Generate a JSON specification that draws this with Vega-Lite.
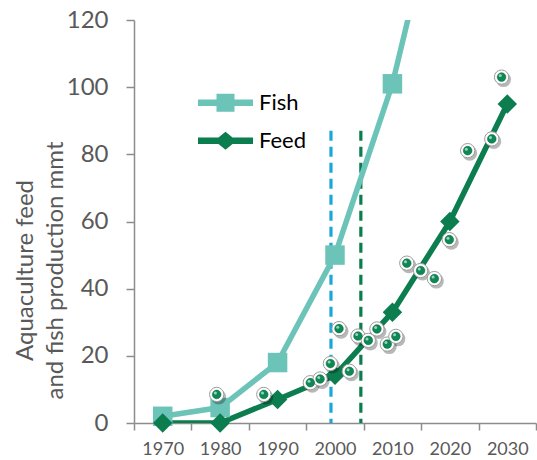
{
  "$schema": "https://vega.github.io/schema/vega-lite/v6.json",
  "width": 402,
  "height": 403,
  "autosize": {"type": "none"},
  "padding": {"left": 134, "top": 20, "right": 1, "bottom": 37},
  "background": "white",
  "config": {"view": {"stroke": null}, "font": "Lato", "axis": {"grid": false}},
  "datasets": {
    "series": [
      {"year": 1970, "value": 2, "series": "Fish"},
      {"year": 1980, "value": 4.6, "series": "Fish"},
      {"year": 1990, "value": 18, "series": "Fish"},
      {"year": 2000, "value": 50, "series": "Fish"},
      {"year": 2010, "value": 101, "series": "Fish"},
      {"year": 2020, "value": 172, "series": "Fish"},
      {"year": 1970, "value": 0, "series": "Feed"},
      {"year": 1980, "value": 0, "series": "Feed"},
      {"year": 1990, "value": 7, "series": "Feed"},
      {"year": 2000, "value": 14.2, "series": "Feed"},
      {"year": 2010, "value": 33, "series": "Feed"},
      {"year": 2020, "value": 60, "series": "Feed"},
      {"year": 2030, "value": 95, "series": "Feed"}
    ],
    "obs": [
      {"year": 1979.4, "value": 8.5},
      {"year": 1987.6, "value": 8.5},
      {"year": 1995.7, "value": 12.0},
      {"year": 1997.4, "value": 13.1},
      {"year": 1999.2, "value": 17.7},
      {"year": 2000.7, "value": 28.1},
      {"year": 2002.5, "value": 15.4},
      {"year": 2004.0, "value": 25.9},
      {"year": 2005.8, "value": 24.6},
      {"year": 2007.3, "value": 28.0},
      {"year": 2009.1, "value": 23.5},
      {"year": 2010.6, "value": 25.8},
      {"year": 2012.5, "value": 47.6},
      {"year": 2014.9, "value": 45.4},
      {"year": 2017.3, "value": 43.0},
      {"year": 2019.9, "value": 54.6},
      {"year": 2023.1, "value": 81.1},
      {"year": 2027.3, "value": 84.6},
      {"year": 2029.0, "value": 103.0}
    ],
    "refs": [
      {"year": 1999.3, "value": 87, "kind": "a"},
      {"year": 2004.5, "value": 87, "kind": "b"}
    ]
  },
  "encoding": {
    "x": {
      "field": "year", "type": "quantitative",
      "scale": {"domain": [1965, 2035], "nice": false, "zero": false},
      "axis": {
        "title": null,
        "values": [1965, 1975, 1985, 1995, 2005, 2015, 2025, 2035],
        "labelExpr": "datum.value + 5 <= 2030 ? '' + (datum.value + 5) : ''",
        "labelOffset": 28.7,
        "labelFlush": false,
        "labelOverlap": false,
        "tickSize": 7,
        "tickWidth": 1.5,
        "tickColor": "#8c8c8c",
        "domainColor": "#8c8c8c",
        "domainWidth": 1.5,
        "labelFontSize": 18,
        "labelColor": "#595959",
        "labelPadding": 10
      }
    },
    "y": {
      "field": "value", "type": "quantitative",
      "scale": {"domain": [0, 120], "nice": false},
      "axis": {
        "values": [0, 20, 40, 60, 80, 100, 120],
        "tickSize": 8,
        "tickWidth": 1.5,
        "tickColor": "#8c8c8c",
        "domainColor": "#8c8c8c",
        "domainWidth": 1.5,
        "labelFontSize": 24,
        "labelColor": "#595959",
        "labelPadding": 18,
        "title": ["Aquaculture feed", "and fish production mmt"],
        "titleFontSize": 24,
        "titleFontWeight": "normal",
        "titleColor": "#595959",
        "titleLineHeight": 30,
        "titleAngle": -90,
        "titleX": -97,
        "titleY": 250,
        "titleAlign": "center",
        "titleBaseline": "bottom"
      }
    }
  },
  "layer": [
    {
      "data": {"name": "refs"},
      "mark": {"type": "rule", "strokeDash": [10, 6], "strokeWidth": 3.2},
      "encoding": {
        "y2": {"datum": 0},
        "stroke": {"field": "kind", "type": "nominal", "scale": {"domain": ["a", "b"], "range": ["#1aa7d8", "#0b7d4e"]}, "legend": null}
      }
    },
    {
      "data": {"name": "series"},
      "mark": {"type": "line", "strokeWidth": 5.5, "clip": true, "strokeJoin": "round"},
      "encoding": {
        "color": {"field": "series", "type": "nominal", "scale": {"domain": ["Fish", "Feed"], "range": ["#6cc4b9", "#0b7d4e"]}}
      }
    },
    {
      "data": {"name": "series"},
      "transform": [{"filter": "datum.series === 'Fish' && datum.value <= 120"}],
      "mark": {"type": "point", "filled": true, "opacity": 1, "size": 380, "shape": "square"},
      "encoding": {
        "color": {
          "field": "series", "type": "nominal",
          "scale": {"domain": ["Fish", "Feed"], "range": ["#6cc4b9", "#0b7d4e"]},
          "legend": {
            "orient": "none",
            "legendX": 80.5,
            "legendY": 71.7,
            "title": null,
            "padding": 0,
            "labelFontSize": 22,
            "labelColor": "#000000",
            "labelOffset": 22.5,
            "rowPadding": 16,
            "symbolSize": 400,
            "symbolStrokeWidth": 0,
            "symbolOpacity": 1,
            "encode": {
              "symbols": {
                "update": {
                  "size": {"value": 400},
                  "strokeWidth": {"value": 0},
                  "shape": {"signal": "datum.value === 'Fish' ? 'M-2.75,-0.33L2.75,-0.33L2.75,0.33L-2.75,0.33Z M-0.9,-0.9L0.9,-0.9L0.9,0.9L-0.9,0.9Z' : 'M-2.75,-0.33L2.75,-0.33L2.75,0.33L-2.75,0.33Z M0,-0.9L1.1,0L0,0.9L-1.1,0Z'"}
                }
              }
            }
          }
        }
      }
    },
    {
      "data": {"name": "series"},
      "transform": [{"filter": "datum.series === 'Feed'"}],
      "mark": {"type": "point", "filled": true, "opacity": 1, "size": 380, "shape": "diamond"},
      "encoding": {
        "color": {"field": "series", "type": "nominal", "scale": {"domain": ["Fish", "Feed"], "range": ["#6cc4b9", "#0b7d4e"]}}
      }
    },
    {
      "data": {"name": "obs"},
      "mark": {"type": "circle", "size": 225, "color": "#000000", "opacity": 0.28, "xOffset": 2, "yOffset": 2.5}
    },
    {
      "data": {"name": "obs"},
      "mark": {"type": "circle", "size": 205, "color": "#ffffff", "opacity": 1, "stroke": "#9c9c9c", "strokeWidth": 1}
    },
    {
      "data": {"name": "obs"},
      "mark": {"type": "circle", "size": 75, "color": "#0c8a55", "opacity": 1, "stroke": "#06603a", "strokeWidth": 0.5}
    },
    {
      "data": {"name": "obs"},
      "mark": {"type": "circle", "size": 9, "color": "#ffffff", "opacity": 0.6, "xOffset": -1.3, "yOffset": -1.5}
    }
  ]
}
